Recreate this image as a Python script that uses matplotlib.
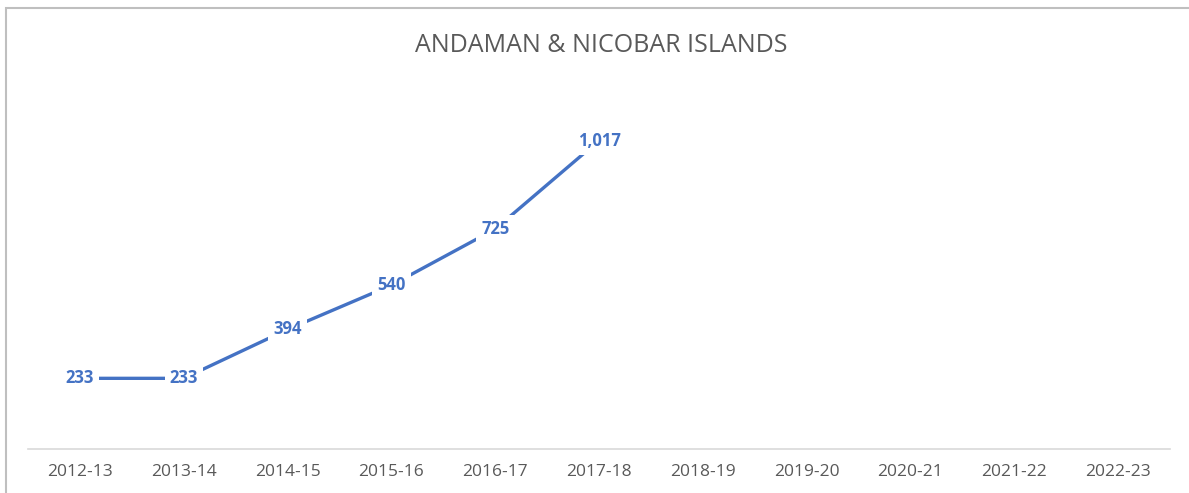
import matplotlib.pyplot as plt
from matplotlib.patches import Rectangle

years = ["2012-13", "2013-14", "2014-15", "2015-16", "2016-17", "2017-18",
         "2018-19", "2019-20", "2020-21", "2021-22", "2022-23"]
values = [233, 233, 394, 540, 725, 1017]
value_labels = ["233", "233", "394", "540", "725", "1,017"]

plt.rcParams['font.family'] = ['Open Sans', 'DejaVu Sans']

fig = plt.figure(figsize=(11.89, 4.93), dpi=100)
ax = fig.add_axes([28 / 1189, 1 - 449 / 493, 1142 / 1189, (449 - 85) / 493])

line_color = "#4472C4"
x = list(range(len(values)))
ax.plot(x, values, color=line_color, linewidth=2.4, zorder=2)

for xi, v, lab in zip(x, values, value_labels):
    ax.text(xi, v, lab, ha="center", va="center", fontsize=12, fontweight="bold",
            color=line_color, zorder=3,
            bbox=dict(boxstyle="square,pad=0.3", facecolor="white", edgecolor="none"))

ax.set_xlim(-0.5, len(years) - 0.5)
ax.set_ylim(0, 1200)
ax.set_xticks(range(len(years)))
ax.set_xticklabels(years, fontsize=12.5, color="#595959")
ax.tick_params(axis="x", length=0, pad=11)
ax.set_yticks([])
for side in ["top", "right", "left"]:
    ax.spines[side].set_visible(False)
ax.spines["bottom"].set_color("#D9D9D9")
ax.spines["bottom"].set_linewidth(1.2)

fig.text(601 / 1189, 1 - 45 / 493, "ANDAMAN & NICOBAR ISLANDS", ha="center", va="center",
         fontsize=18, color="#595959")

# chart border (only top and left visible in the crop)
fig.patches.append(Rectangle((6 / 1189, -0.1), 1.2, 1 - 7.5 / 493 + 0.1,
                             transform=fig.transFigure, fill=False,
                             edgecolor="#BFBFBF", linewidth=1.5))

fig.savefig("out.png", dpi=100)
